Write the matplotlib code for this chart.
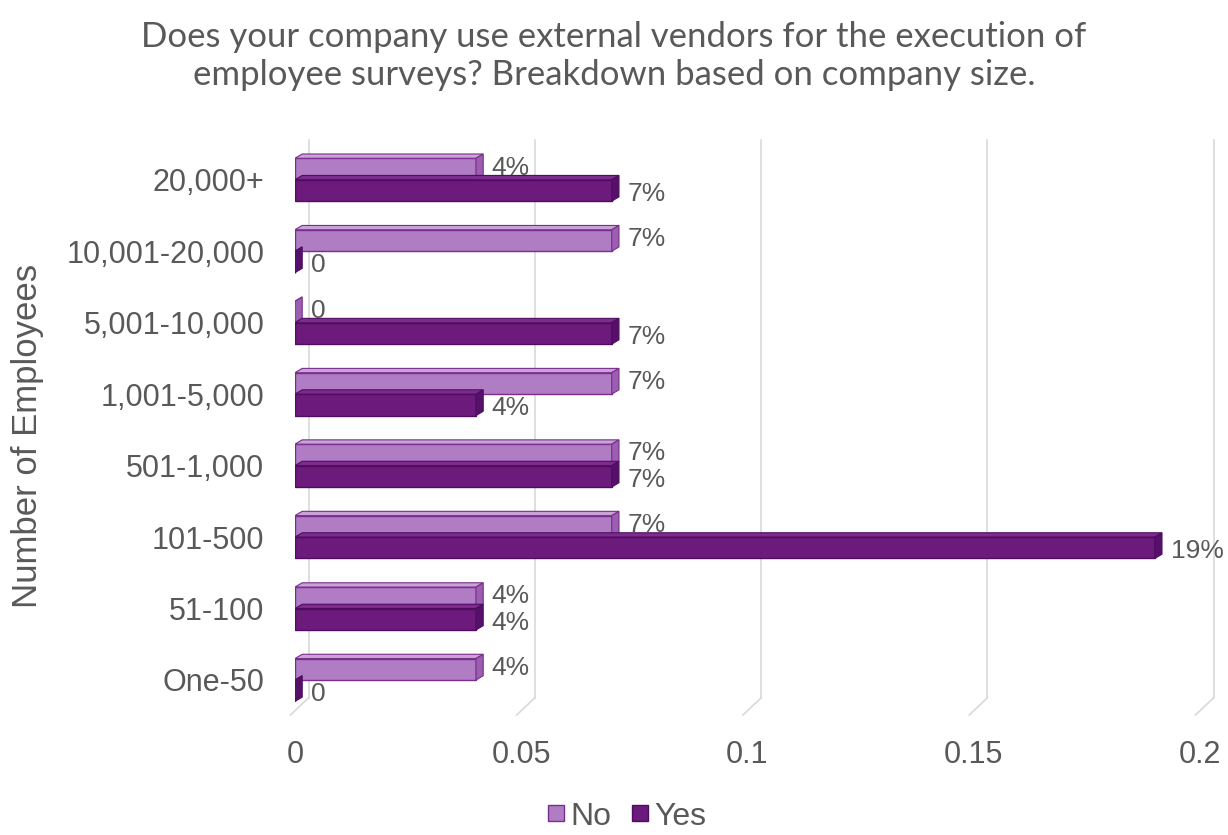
import matplotlib.pyplot as plt
from matplotlib.patches import Polygon, Rectangle
from matplotlib.lines import Line2D

plt.rcParams["font.family"] = ["Liberation Sans", "DejaVu Sans"]

# bottom-to-top order on the y axis
CATEGORIES = ["One-50", "51-100", "101-500", "501-1,000", "1,001-5,000",
              "5,001-10,000", "10,001-20,000", "20,000+"]
NO_VALUES = [0.04, 0.04, 0.07, 0.07, 0.07, 0, 0.07, 0.04]
YES_VALUES = [0, 0.04, 0.19, 0.07, 0.04, 0.07, 0, 0.07]
XTICKS = [0, 0.05, 0.1, 0.15, 0.2]
XTICK_LABELS = ["0", "0.05", "0.1", "0.15", "0.2"]

TEXT = "#595959"
NO_FACE, NO_TOP, NO_SIDE, NO_EDGE = "#b07cc4", "#c9a2d8", "#9a5fb0", "#7a2d8c"
YES_FACE, YES_TOP, YES_SIDE, YES_EDGE = "#6c1a7c", "#7d2b8e", "#55106a", "#4f0d60"

BAR_H = 0.30
DX, DY = 0.0016, 0.06  # depth of the pseudo-3d extrusion


def draw_bar(ax, y0, value, face, top, side, edge):
    y1 = y0 + BAR_H
    ax.add_patch(Rectangle((0, y0), value, BAR_H, facecolor=face,
                           edgecolor=edge, linewidth=1.0, zorder=3))
    ax.add_patch(Polygon([(0, y1), (value, y1), (value + DX, y1 + DY), (DX, y1 + DY)],
                         closed=True, facecolor=top, edgecolor=edge, linewidth=0.8, zorder=3))
    ax.add_patch(Polygon([(value, y0), (value, y1), (value + DX, y1 + DY), (value + DX, y0 + DY)],
                         closed=True, facecolor=side, edgecolor=edge, linewidth=0.8, zorder=3))


def label(v):
    return "0" if v == 0 else f"{round(v * 100)}%"


fig = plt.figure(figsize=(12.28, 8.35), dpi=100)
ax = fig.add_axes([0.2402, 0.1437, 0.737, 0.689])
ax.set_xlim(0, 0.2)
ax.set_ylim(-0.49, 7.56)

# back gridlines with a short slanted floor segment
for x in XTICKS:
    ax.plot([x + 0.003, x + 0.003], [-0.25, 7.56], color="#d9d9d9", linewidth=1.2, zorder=1, clip_on=False)
    ax.plot([x + 0.003, x - 0.001], [-0.25, -0.49], color="#d9d9d9", linewidth=1.2, zorder=1, clip_on=False)

for i, cat in enumerate(CATEGORIES):
    no_v, yes_v = NO_VALUES[i], YES_VALUES[i]
    draw_bar(ax, i, no_v, NO_FACE, NO_TOP, NO_SIDE, NO_EDGE)
    draw_bar(ax, i - BAR_H, yes_v, YES_FACE, YES_TOP, YES_SIDE, YES_EDGE)
    ax.text(no_v + 0.0035, i + BAR_H / 2 + 0.02, label(no_v), fontsize=19, color=TEXT,
            va="center", ha="left", zorder=4)
    ax.text(yes_v + 0.0035, i - BAR_H / 2 - 0.05, label(yes_v), fontsize=19, color=TEXT,
            va="center", ha="left", zorder=4)

ax.set_xticks(XTICKS)
ax.set_xticklabels(XTICK_LABELS)
ax.set_yticks(range(len(CATEGORIES)))
ax.set_yticklabels(CATEGORIES)
ax.tick_params(axis="both", length=0, labelsize=22, labelcolor=TEXT)
ax.tick_params(axis="x", pad=18)
ax.tick_params(axis="y", pad=22)
for s in ax.spines.values():
    s.set_visible(False)

fig.text(0.022, 0.478, "Number of Employees", rotation=90, fontsize=25, color=TEXT,
         ha="center", va="center")
fig.text(0.5, 0.933, "Does your company use external vendors for the execution of\n"
         "employee surveys? Breakdown based on company size.",
         ha="center", va="center", fontsize=25, color=TEXT, family=["Lato", "DejaVu Sans"],
         linespacing=1.25)

handles = [
    Line2D([], [], marker="s", linestyle="none", markersize=12, markerfacecolor=NO_FACE,
           markeredgecolor=NO_EDGE),
    Line2D([], [], marker="s", linestyle="none", markersize=12, markerfacecolor=YES_FACE,
           markeredgecolor=YES_EDGE),
]
fig.legend(handles, ["No", "Yes"], loc="center", bbox_to_anchor=(0.51, 0.022), ncol=2,
           frameon=False, fontsize=23, handlelength=0.6, handletextpad=0.15,
           columnspacing=0.6, labelcolor=TEXT)

fig.savefig("out.png", dpi=100)
